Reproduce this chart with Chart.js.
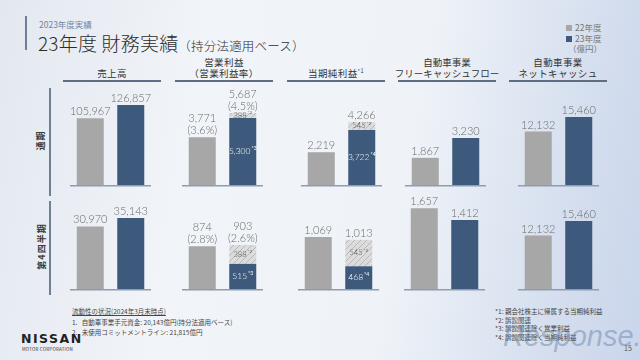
<!DOCTYPE html>
<html lang="ja">
<head>
<meta charset="utf-8">
<script src="https://cdn.jsdelivr.net/npm/chart.js@4.4.1/dist/chart.umd.min.js"></script>
<style>
  body {
    margin: 0;
    width: 640px;
    height: 360px;
    overflow: hidden;
    position: relative;
    font-family: 'Noto Sans CJK JP', sans-serif;
    background: linear-gradient(100deg, #e3e8f0 0%, #f1f4f8 30%, #eff3f8 62%, #d3ddee 88%, #c9d5eb 100%);
    color: #333;
  }
  .abs { position: absolute; }
  .accent { left: 25px; top: 16px; width: 1.5px; height: 34px; background: #6f7f96; }
  .subtitle { left: 39px; top: 18px; font-size: 8.5px; color: #6f86a8; }
  .title { left: 38px; top: 29px; font-size: 19px; color: #2d2d2d; font-weight: 300; letter-spacing: 0.2px; white-space: nowrap; }
  .title small { font-size: 12.5px; }
  .legend { left: 566px; top: 22px; font-size: 8.5px; color: #777; line-height: 10.5px; }
  .legend i { display: inline-block; width: 6px; height: 6px; margin-right: 3px; }
  .head {
    top: 48px; width: 98px; height: 31px;
    display: flex; flex-direction: column; justify-content: flex-end; align-items: center;
    border-bottom: 2px solid #5f6d82;
    font-size: 9.5px; line-height: 11px; color: #333; padding-bottom: 1px; box-sizing: content-box;
    letter-spacing: 0.4px; white-space: nowrap;
  }
  .head sup { font-size: 5.5px; }
  .rowline { left: 49px; width: 1.5px; background: #6f7f96; }
  .rowlabel { font-size: 9px; font-weight: bold; color: #3a3a3a; transform: rotate(-90deg); white-space: nowrap; letter-spacing: 1px; }
  .foot { font-size: 6.5px; color: #444; line-height: 10.5px; white-space: nowrap; }
  .notes { font-size: 6.5px; color: #444; line-height: 8.5px; white-space: nowrap; }
  canvas { position: absolute; }
</style>
</head>
<body>
<div class="abs accent"></div>
<div class="abs subtitle">2023年度実績</div>
<div class="abs title">23年度 財務実績<small>（持分法適用ベース）</small></div>
<div class="abs legend">
  <div><i style="background:#a7a7a7"></i>22年度</div>
  <div><i style="background:#3d5a7d"></i>23年度</div>
  <div>&nbsp;（億円）</div>
</div>

<div class="abs head" style="left:63px">売上高</div>
<div class="abs head" style="left:175px"><span>営業利益</span><span>（営業利益率）</span></div>
<div class="abs head" style="left:287px"><span>当期純利益<sup>*1</sup></span></div>
<div class="abs head" style="left:398px;letter-spacing:0"><span>自動車事業</span><span>フリーキャッシュフロー</span></div>
<div class="abs head" style="left:509px"><span>自動車事業</span><span>ネットキャッシュ</span></div>

<div class="abs rowline" style="top:88px;height:108px"></div>
<div class="abs rowline" style="top:201px;height:94px"></div>
<div class="abs rowlabel" style="left:30px;top:134px">通期</div>
<div class="abs rowlabel" style="left:18px;top:240px">第4四半期</div>

<div class="abs foot" style="left:72px;top:306px">
  <div style="text-decoration:underline">流動性の状況(2024年3月末時点)</div>
  <div>1.&nbsp;&nbsp;&nbsp;自動車事業手元資金: 20,143億円(持分法適用ベース)</div>
  <div>2.&nbsp;&nbsp;&nbsp;未使用コミットメントライン: 21,815億円</div>
</div>
<div class="abs notes" style="left:495px;top:307px">
  <div>*1: 親会社株主に帰属する当期純利益</div>
  <div>*2: 訴訟関連</div>
  <div>*3: 訴訟関連除く営業利益</div>
  <div>*4: 訴訟関連除く当期純利益</div>
</div>
<div class="abs" style="left:21px;top:331px;font:bold 12.5px 'DejaVu Sans',sans-serif;letter-spacing:1.5px;color:#222">NISSAN</div>
<div class="abs" style="left:22px;top:346px;font-size:4.5px;color:#333;letter-spacing:0.2px">MOTOR CORPORATION</div>
<div class="abs" style="left:503px;top:320px;font:italic 29px 'Liberation Sans',sans-serif;color:rgba(110,135,170,0.5)">Response.</div>
<div class="abs" style="left:624px;top:343px;font-size:7px;color:#555">15</div>

<canvas id="fy0"></canvas><canvas id="fy1"></canvas><canvas id="fy2"></canvas><canvas id="fy3"></canvas><canvas id="fy4"></canvas>
<canvas id="q40"></canvas><canvas id="q41"></canvas><canvas id="q42"></canvas><canvas id="q43"></canvas><canvas id="q44"></canvas>

<script>
// Data (億円)
const years = ['22年度', '23年度'];

// 通期
const fyPrev = [105967, 3771, 2219, 1867, 12132];
const fyCurr = [126857, 5687, 4266, 3230, 15460];
const fyMarginPrev = [null, 3.6, null, null, null];
const fyMarginCurr = [null, 4.5, null, null, null];
const fyCore = [null, 5300, 3722, null, null];       // 訴訟関連除く
const fyLitigation = [null, 388, 545, null, null];   // 訴訟関連

// 第4四半期
const q4Prev = [30970, 874, 1069, 1657, 12132];
const q4Curr = [35143, 903, 1013, 1412, 15460];
const q4MarginPrev = [null, 2.8, null, null, null];
const q4MarginCurr = [null, 2.6, null, null, null];
const q4Core = [null, 515, 468, null, null];
const q4Litigation = [null, 388, 545, null, null];

const coreNotes = ['', '*3', '*4', '', ''];
const litigationNote = '*2';

// Each small panel has its own scale
const fyAxisMax = [158600, 7900, 6770, 6870, 22700];
const q4AxisMax = [49500, 2050, 2060, 2050, 22700];

// Layout
const panelLeftFy = [70, 182, 301, 405, 518];
const panelLeftQ4 = [70, 182, 298, 404, 518];
const PANEL_W = 81;
const PANEL_H = 102;

const GRAY = '#a7a7a7';
const BLUE = '#3d5a7d';
const LABEL = '#6a6a6a';
const LABEL_FONT = '300 11px Lato, sans-serif';

const makeHatch = () => {
    const c = document.createElement('canvas');
    c.width = 6; c.height = 6;
    const g = c.getContext('2d');
    g.fillStyle = '#dcdcdc';
    g.fillRect(0, 0, 6, 6);
    g.strokeStyle = '#b9b9b9';
    g.lineWidth = 1;
    g.beginPath();
    g.moveTo(0, 6); g.lineTo(6, 0);
    g.moveTo(-3, 3); g.lineTo(3, -3);
    g.moveTo(3, 9); g.lineTo(9, 3);
    g.stroke();
    return g.createPattern(c, 'repeat');
};
const hatch = makeHatch();

const fmt = (v) => v.toLocaleString('en-US');

// text with a small raised note like *3
const drawNoted = (ctx, text, note, x, y, color, size) => {
    ctx.font = `300 ${size}px Lato, sans-serif`;
    const w1 = ctx.measureText(text).width;
    ctx.font = `${size * 0.6}px Lato, sans-serif`;
    const w2 = note ? ctx.measureText(note).width + 1 : 0;
    const start = x - (w1 + w2) / 2;
    ctx.fillStyle = color;
    ctx.textAlign = 'left';
    ctx.textBaseline = 'middle';
    ctx.font = `300 ${size}px Lato, sans-serif`;
    ctx.fillText(text, start, y);
    if (note) {
        ctx.font = `${size * 0.6}px Lato, sans-serif`;
        ctx.fillText(note, start + w1 + 1, y - size * 0.35);
    }
};

const labelPlugin = (info) => ({
    id: 'panelLabels',
    afterDatasetsDraw(chart) {
        const ctx = chart.ctx;
        const area = chart.chartArea;
        ctx.save();

        // baseline
        ctx.strokeStyle = '#8d9cb2';
        ctx.lineWidth = 1.5;
        ctx.beginPath();
        ctx.moveTo(area.left, area.bottom + 0.75);
        ctx.lineTo(area.right, area.bottom + 0.75);
        ctx.stroke();

        // value labels on top
        info.totals.forEach((v, i) => {
            const bars = chart.data.datasets.map((d, k) => chart.getDatasetMeta(k).data[i]);
            const top = Math.min(...bars.map(b => b.y));
            const x = bars[0].x;
            let y = top - 3;
            ctx.fillStyle = LABEL;
            ctx.textAlign = 'center';
            ctx.textBaseline = 'alphabetic';
            ctx.font = LABEL_FONT;
            if (info.margins[i] != null) {
                ctx.fillText(`(${info.margins[i].toFixed(1)}%)`, x, y);
                y -= 12;
            }
            ctx.fillText(fmt(v), x, y);
        });

        // split labels inside the 23年度 bar
        if (info.core != null) {
            const coreBar = chart.getDatasetMeta(0).data[1];
            const litBar = chart.getDatasetMeta(1).data[1];
            drawNoted(ctx, fmt(info.core), info.coreNote, coreBar.x, (coreBar.y + coreBar.base) / 2, '#fff', 8.5);
            drawNoted(ctx, fmt(info.litigation), litigationNote, litBar.x, (litBar.y + litBar.base) / 2, '#555', 7.5);
        }
        ctx.restore();
    }
});

const buildPanel = (id, left, top, prev, curr, marginPrev, marginCurr, core, litigation, note, axisMax) => {
    const canvas = document.getElementById(id);
    canvas.width = PANEL_W;
    canvas.height = PANEL_H;
    canvas.style.left = left + 'px';
    canvas.style.top = top + 'px';

    const split = core != null;
    new Chart(canvas.getContext('2d'), {
        type: 'bar',
        data: {
            labels: years,
            datasets: [
                {
                    label: '本体',
                    data: [prev, split ? core : curr],
                    backgroundColor: [GRAY, BLUE],
                    stack: 's'
                },
                {
                    label: '訴訟関連',
                    data: [0, split ? litigation : 0],
                    backgroundColor: hatch,
                    stack: 's'
                }
            ]
        },
        options: {
            responsive: false,
            animation: false,
            devicePixelRatio: 1,
            events: [],
            layout: { padding: { top: 0, bottom: 2, left: 0, right: 0 } },
            datasets: {
                bar: { barPercentage: 0.667, categoryPercentage: 1 }
            },
            plugins: {
                legend: { display: false },
                tooltip: { enabled: false }
            },
            scales: {
                x: { display: false, stacked: true },
                y: { display: false, stacked: true, min: 0, max: axisMax }
            }
        },
        plugins: [labelPlugin({
            totals: [prev, curr],
            margins: [marginPrev, marginCurr],
            core: core,
            litigation: litigation,
            coreNote: note
        })]
    });
};

// Build all panels
const buildRows = () => {
    for (let i = 0; i < 5; i++) {
        buildPanel('fy' + i, panelLeftFy[i], 85, fyPrev[i], fyCurr[i], fyMarginPrev[i], fyMarginCurr[i],
            fyCore[i], fyLitigation[i], coreNotes[i], fyAxisMax[i]);
        buildPanel('q4' + i, panelLeftQ4[i], 189, q4Prev[i], q4Curr[i], q4MarginPrev[i], q4MarginCurr[i],
            q4Core[i], q4Litigation[i], coreNotes[i], q4AxisMax[i]);
    }
};

document.fonts.ready.then(buildRows);
</script>
</body>
</html>
